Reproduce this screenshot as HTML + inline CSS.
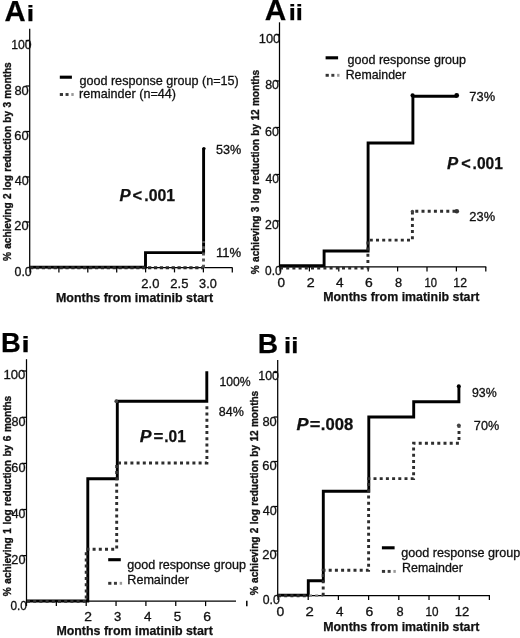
<!DOCTYPE html>
<html><head><meta charset="utf-8"><title>Figure</title>
<style>
html,body{margin:0;padding:0;background:#fff;}
body{width:520px;height:638px;overflow:hidden;font-family:"Liberation Sans",sans-serif;}
svg{display:block;will-change:transform;font-family:"Liberation Sans",sans-serif;}
.ax line{stroke:#000;stroke-width:1.25;fill:none}
.s{stroke:#000;stroke-width:2.9;fill:none;stroke-linejoin:miter}
.d{stroke:#2e2e2e;stroke-width:2.9;fill:none;stroke-dasharray:3 3.2}
</style></head><body>
<svg width="520" height="638" viewBox="0 0 520 638">
<rect width="520" height="638" fill="#fff"/>

<g class="ax">
<line x1="29.7" y1="28.8" x2="29.7" y2="267.7"/><line x1="29.099999999999998" y1="267.7" x2="232.6" y2="267.7"/>
<line x1="30.00" y1="267.7" x2="30.00" y2="272.4"/><line x1="58.90" y1="267.7" x2="58.90" y2="272.4"/><line x1="87.80" y1="267.7" x2="87.80" y2="272.4"/><line x1="116.70" y1="267.7" x2="116.70" y2="272.4"/><line x1="145.60" y1="267.7" x2="145.60" y2="272.4"/><line x1="174.50" y1="267.7" x2="174.50" y2="272.4"/><line x1="203.40" y1="267.7" x2="203.40" y2="272.4"/><line x1="232.30" y1="267.7" x2="232.30" y2="272.4"/>
<line x1="25.7" y1="40.5" x2="29.7" y2="40.5"/><line x1="25.7" y1="86" x2="29.7" y2="86"/><line x1="25.7" y1="131.5" x2="29.7" y2="131.5"/><line x1="25.7" y1="177" x2="29.7" y2="177"/><line x1="25.7" y1="222" x2="29.7" y2="222"/>
</g>
<path class="s" d="M30 267.1H145.5V252.6H203.6V148.3"/><circle cx="203.9" cy="148.6" r="1.7" fill="#000"/>
<path class="d" style="stroke:#2a2a2a;stroke-width:3;stroke-dasharray:3.3 2.6" d="M30 267.8H203.3"/><path class="d" style="stroke:#555" d="M203.5 267.8V241"/>
<text x="11.18" y="48.60" style="font-size:12.60px;stroke:#111;stroke-width:0.3px;" fill="#111" textLength="20.39" lengthAdjust="spacingAndGlyphs">100</text>
<text x="14.42" y="94.60" style="font-size:12.60px;stroke:#111;stroke-width:0.3px;" fill="#111" textLength="14.36" lengthAdjust="spacingAndGlyphs">80</text>
<text x="14.35" y="139.60" style="font-size:12.60px;stroke:#111;stroke-width:0.3px;" fill="#111" textLength="14.43" lengthAdjust="spacingAndGlyphs">60</text>
<text x="14.75" y="185.00" style="font-size:12.60px;stroke:#111;stroke-width:0.3px;" fill="#111" textLength="14.02" lengthAdjust="spacingAndGlyphs">40</text>
<text x="14.36" y="230.10" style="font-size:12.60px;stroke:#111;stroke-width:0.3px;" fill="#111" textLength="14.32" lengthAdjust="spacingAndGlyphs">20</text>
<text x="14.50" y="275.90" style="font-size:12.60px;stroke:#111;stroke-width:0.3px;" fill="#111" textLength="17.23" lengthAdjust="spacingAndGlyphs">0.0</text>
<text x="141.35" y="287.70" style="font-size:12.10px;stroke:#111;stroke-width:0.3px;" fill="#111" textLength="18.00" lengthAdjust="spacingAndGlyphs">2.0</text>
<text x="170.35" y="287.70" style="font-size:12.10px;stroke:#111;stroke-width:0.3px;" fill="#111" textLength="18.07" lengthAdjust="spacingAndGlyphs">2.5</text>
<text x="199.09" y="287.70" style="font-size:12.10px;stroke:#111;stroke-width:0.3px;" fill="#111" textLength="17.65" lengthAdjust="spacingAndGlyphs">3.0</text>
<text x="216.00" y="154.40" style="font-size:12.20px;stroke:#111;stroke-width:0.3px;" fill="#111" textLength="25.27" lengthAdjust="spacingAndGlyphs">53%</text>
<text x="216.02" y="257.30" style="font-size:12.20px;stroke:#111;stroke-width:0.3px;" fill="#111" textLength="25.20" lengthAdjust="spacingAndGlyphs">11%</text>
<text x="55.89" y="301.50" style="font-size:12.60px;font-weight:bold;stroke:#111;stroke-width:0.25px;" fill="#111" textLength="157.25" lengthAdjust="spacingAndGlyphs">Months from imatinib start</text>
<text transform="translate(10.85,261.05) rotate(-90) scale(0.915,1)" style="font-size:11.00px;font-weight:bold;stroke:#111;stroke-width:0.25px;stroke:#111;stroke-width:0.35px;word-spacing:0.577px" fill="#111">% achieving 2 log reduction by 3 months</text>
<text x="119.56" y="200.60" style="font-size:15.60px;font-weight:bold;font-style:italic;stroke:#111;stroke-width:0.25px;" fill="#111" textLength="11.19" lengthAdjust="spacingAndGlyphs">P</text><text x="132.54" y="200.60" style="font-size:15.60px;font-weight:bold;stroke:#111;stroke-width:0.25px;" fill="#111" textLength="9.60" lengthAdjust="spacingAndGlyphs">&lt;</text><text x="144.27" y="200.60" style="font-size:15.60px;font-weight:bold;stroke:#111;stroke-width:0.25px;" fill="#111" textLength="30.85" lengthAdjust="spacingAndGlyphs">.001</text>
<line x1="59.8" y1="77.2" x2="71.9" y2="77.2" stroke="#000" stroke-width="3.1"/><rect x="59.80" y="93.05" width="3.2" height="2.9" fill="#333"/><rect x="65.55" y="93.05" width="3.0" height="2.9" fill="#3c3c3c"/><rect x="71.30" y="93.05" width="2.4" height="2.9" fill="#999"/>
<text x="79.40" y="85.30" style="font-size:12.60px;stroke:#111;stroke-width:0.3px;" fill="#111" textLength="159.40" lengthAdjust="spacingAndGlyphs">good response group (n=15)</text>
<text x="79.08" y="98.10" style="font-size:12.60px;stroke:#111;stroke-width:0.3px;" fill="#111">remainder (n=44)</text>
<text x="4.47" y="20.50" style="font-size:28.84px;font-weight:bold;stroke:#111;stroke-width:0.25px;" fill="#000" textLength="21.13" lengthAdjust="spacingAndGlyphs">A</text><text x="26.75" y="20.50" style="font-size:22.21px;font-weight:bold;stroke:#111;stroke-width:0.25px;" fill="#000" textLength="7.34" lengthAdjust="spacingAndGlyphs">i</text>
<g class="ax">
<line x1="279.5" y1="22.3" x2="279.5" y2="266.9"/><line x1="278.9" y1="266.9" x2="486.3" y2="266.9"/>
<line x1="280.00" y1="266.9" x2="280.00" y2="271.4"/><line x1="309.40" y1="266.9" x2="309.40" y2="271.4"/><line x1="338.80" y1="266.9" x2="338.80" y2="271.4"/><line x1="368.20" y1="266.9" x2="368.20" y2="271.4"/><line x1="397.60" y1="266.9" x2="397.60" y2="271.4"/><line x1="427.00" y1="266.9" x2="427.00" y2="271.4"/><line x1="456.40" y1="266.9" x2="456.40" y2="271.4"/><line x1="485.80" y1="266.9" x2="485.80" y2="271.4"/>
<line x1="275.5" y1="34.5" x2="279.5" y2="34.5"/><line x1="275.5" y1="81" x2="279.5" y2="81"/><line x1="275.5" y1="127.5" x2="279.5" y2="127.5"/><line x1="275.5" y1="174.5" x2="279.5" y2="174.5"/><line x1="275.5" y1="221" x2="279.5" y2="221"/>
</g>
<path class="s" d="M280 265.7H324.1V251H368.1V143H412.9V96.3H456.5"/><circle cx="412.6" cy="95.4" r="2.1" fill="#000"/><circle cx="456.7" cy="95.5" r="2.4" fill="#000"/>
<path class="d" d="M280 268.1H367.9V240.1H412.4V211.2H456.5"/><circle cx="456.8" cy="211.2" r="2.3" fill="#333"/><circle cx="412.4" cy="211.5" r="1.7" fill="#444"/>
<text x="258.74" y="42.50" style="font-size:12.60px;stroke:#111;stroke-width:0.3px;" fill="#111" textLength="21.46" lengthAdjust="spacingAndGlyphs">100</text>
<text x="265.14" y="89.30" style="font-size:12.60px;stroke:#111;stroke-width:0.3px;" fill="#111" textLength="13.82" lengthAdjust="spacingAndGlyphs">80</text>
<text x="265.08" y="135.90" style="font-size:12.60px;stroke:#111;stroke-width:0.3px;" fill="#111" textLength="13.89" lengthAdjust="spacingAndGlyphs">60</text>
<text x="265.46" y="182.80" style="font-size:12.60px;stroke:#111;stroke-width:0.3px;" fill="#111" textLength="13.50" lengthAdjust="spacingAndGlyphs">40</text>
<text x="265.09" y="228.70" style="font-size:12.60px;stroke:#111;stroke-width:0.3px;" fill="#111" textLength="13.67" lengthAdjust="spacingAndGlyphs">20</text>
<text x="265.02" y="274.50" style="font-size:12.60px;stroke:#111;stroke-width:0.3px;" fill="#111" textLength="16.60" lengthAdjust="spacingAndGlyphs">0.0</text>
<text x="277.46" y="286.80" style="font-size:12.10px;stroke:#111;stroke-width:0.3px;" fill="#111" textLength="7.53" lengthAdjust="spacingAndGlyphs">0</text>
<text x="306.79" y="286.80" style="font-size:12.10px;stroke:#111;stroke-width:0.3px;" fill="#111" textLength="7.95" lengthAdjust="spacingAndGlyphs">2</text>
<text x="336.03" y="286.80" style="font-size:12.10px;stroke:#111;stroke-width:0.3px;" fill="#111" textLength="7.60" lengthAdjust="spacingAndGlyphs">4</text>
<text x="365.00" y="286.80" style="font-size:12.10px;stroke:#111;stroke-width:0.3px;" fill="#111" textLength="7.77" lengthAdjust="spacingAndGlyphs">6</text>
<text x="394.93" y="286.80" style="font-size:12.10px;stroke:#111;stroke-width:0.3px;" fill="#111" textLength="7.10" lengthAdjust="spacingAndGlyphs">8</text>
<text x="424.46" y="286.80" style="font-size:12.10px;stroke:#111;stroke-width:0.3px;" fill="#111" textLength="12.46" lengthAdjust="spacingAndGlyphs">10</text>
<text x="453.39" y="286.80" style="font-size:12.10px;stroke:#111;stroke-width:0.3px;" fill="#111" textLength="13.55" lengthAdjust="spacingAndGlyphs">12</text>
<text x="469.36" y="101.30" style="font-size:12.30px;stroke:#111;stroke-width:0.3px;" fill="#111" textLength="25.71" lengthAdjust="spacingAndGlyphs">73%</text>
<text x="469.36" y="220.50" style="font-size:12.30px;stroke:#111;stroke-width:0.3px;" fill="#111" textLength="25.71" lengthAdjust="spacingAndGlyphs">23%</text>
<text x="323.19" y="300.60" style="font-size:12.60px;font-weight:bold;stroke:#111;stroke-width:0.25px;" fill="#111" textLength="156.25" lengthAdjust="spacingAndGlyphs">Months from imatinib start</text>
<text transform="translate(259.10,274.25) rotate(-90) scale(0.915,1)" style="font-size:11.00px;font-weight:bold;stroke:#111;stroke-width:0.25px;stroke:#111;stroke-width:0.35px;word-spacing:0.610px" fill="#111">% achieving 3 log reduction by 12 months</text>
<text x="446.96" y="169.00" style="font-size:15.60px;font-weight:bold;font-style:italic;stroke:#111;stroke-width:0.25px;" fill="#111" textLength="11.19" lengthAdjust="spacingAndGlyphs">P</text><text x="461.35" y="169.00" style="font-size:15.60px;font-weight:bold;stroke:#111;stroke-width:0.25px;" fill="#111" textLength="9.48" lengthAdjust="spacingAndGlyphs">&lt;</text><text x="472.59" y="169.00" style="font-size:15.60px;font-weight:bold;stroke:#111;stroke-width:0.25px;" fill="#111" textLength="30.32" lengthAdjust="spacingAndGlyphs">.001</text>
<line x1="325.6" y1="57.8" x2="338.1" y2="57.8" stroke="#000" stroke-width="3.1"/><rect x="325.60" y="73.85" width="3.2" height="2.9" fill="#333"/><rect x="331.35" y="73.85" width="3.0" height="2.9" fill="#3c3c3c"/><rect x="337.10" y="73.85" width="2.4" height="2.9" fill="#999"/>
<text x="347.50" y="64.30" style="font-size:12.60px;stroke:#111;stroke-width:0.3px;" fill="#111" textLength="118.53" lengthAdjust="spacingAndGlyphs">good response group</text>
<text x="345.71" y="79.40" style="font-size:12.40px;stroke:#111;stroke-width:0.3px;" fill="#111" textLength="60.29" lengthAdjust="spacingAndGlyphs">Remainder</text>
<text x="264.65" y="19.70" style="font-size:28.99px;font-weight:bold;stroke:#111;stroke-width:0.25px;" fill="#000" textLength="21.56" lengthAdjust="spacingAndGlyphs">A</text><text x="288.72" y="19.70" style="font-size:21.93px;font-weight:bold;stroke:#111;stroke-width:0.25px;" fill="#000" textLength="14.16" lengthAdjust="spacingAndGlyphs">ii</text>
<g class="ax">
<line x1="26.5" y1="359.2" x2="26.5" y2="601.2"/><line x1="25.9" y1="601.2" x2="236" y2="601.2"/>
<line x1="26.50" y1="601.2" x2="26.50" y2="606.1"/><line x1="56.35" y1="601.2" x2="56.35" y2="606.1"/><line x1="86.20" y1="601.2" x2="86.20" y2="606.1"/><line x1="116.05" y1="601.2" x2="116.05" y2="606.1"/><line x1="145.90" y1="601.2" x2="145.90" y2="606.1"/><line x1="175.75" y1="601.2" x2="175.75" y2="606.1"/><line x1="205.60" y1="601.2" x2="205.60" y2="606.1"/>
<line x1="22.0" y1="371" x2="26.5" y2="371"/><line x1="22.0" y1="417.3" x2="26.5" y2="417.3"/><line x1="22.0" y1="463.4" x2="26.5" y2="463.4"/><line x1="22.0" y1="509.5" x2="26.5" y2="509.5"/><line x1="22.0" y1="555.6" x2="26.5" y2="555.6"/>
<line x1="246.8" y1="600.8" x2="246.8" y2="606.2" style="stroke-width:1.5"/>
</g>
<path class="s" d="M27 601H87.8V478.8H117.3V401.3H206.8V371.3"/><circle cx="116.3" cy="401.2" r="1.9" fill="#444"/>
<path class="d" d="M27 601.4H86.2V549.2H116.7V463H206.9V403"/>
<text x="3.42" y="379.20" style="font-size:12.60px;stroke:#111;stroke-width:0.3px;" fill="#111" textLength="21.89" lengthAdjust="spacingAndGlyphs">100</text>
<text x="11.43" y="425.90" style="font-size:12.60px;stroke:#111;stroke-width:0.3px;" fill="#111" textLength="14.04" lengthAdjust="spacingAndGlyphs">80</text>
<text x="11.37" y="472.00" style="font-size:12.60px;stroke:#111;stroke-width:0.3px;" fill="#111" textLength="14.11" lengthAdjust="spacingAndGlyphs">60</text>
<text x="11.75" y="518.10" style="font-size:12.60px;stroke:#111;stroke-width:0.3px;" fill="#111" textLength="13.71" lengthAdjust="spacingAndGlyphs">40</text>
<text x="11.37" y="563.60" style="font-size:12.60px;stroke:#111;stroke-width:0.3px;" fill="#111" textLength="14.11" lengthAdjust="spacingAndGlyphs">20</text>
<text x="10.53" y="609.50" style="font-size:12.60px;stroke:#111;stroke-width:0.3px;" fill="#111" textLength="16.39" lengthAdjust="spacingAndGlyphs">0.0</text>
<text x="84.31" y="621.40" style="font-size:12.20px;stroke:#111;stroke-width:0.3px;" fill="#111" textLength="7.70" lengthAdjust="spacingAndGlyphs">2</text>
<text x="113.98" y="621.40" style="font-size:12.20px;stroke:#111;stroke-width:0.3px;" fill="#111" textLength="7.26" lengthAdjust="spacingAndGlyphs">3</text>
<text x="143.93" y="621.40" style="font-size:12.20px;stroke:#111;stroke-width:0.3px;" fill="#111" textLength="7.49" lengthAdjust="spacingAndGlyphs">4</text>
<text x="173.76" y="621.40" style="font-size:12.20px;stroke:#111;stroke-width:0.3px;" fill="#111" textLength="7.49" lengthAdjust="spacingAndGlyphs">5</text>
<text x="203.30" y="621.40" style="font-size:12.20px;stroke:#111;stroke-width:0.3px;" fill="#111" textLength="7.77" lengthAdjust="spacingAndGlyphs">6</text>
<text x="219.38" y="385.90" style="font-size:12.30px;stroke:#111;stroke-width:0.3px;" fill="#111" textLength="31.21" lengthAdjust="spacingAndGlyphs">100%</text>
<text x="218.74" y="415.90" style="font-size:12.30px;stroke:#111;stroke-width:0.3px;" fill="#111" textLength="25.02" lengthAdjust="spacingAndGlyphs">84%</text>
<text x="56.39" y="635.00" style="font-size:12.60px;font-weight:bold;stroke:#111;stroke-width:0.25px;" fill="#111" textLength="156.45" lengthAdjust="spacingAndGlyphs">Months from imatinib start</text>
<text transform="translate(10.90,596.15) rotate(-90) scale(0.915,1)" style="font-size:11.00px;font-weight:bold;stroke:#111;stroke-width:0.25px;stroke:#111;stroke-width:0.35px;word-spacing:0.842px" fill="#111">% achieving 1 log reduction by 6 months</text>
<text x="139.75" y="441.90" style="font-size:16.80px;font-weight:bold;font-style:italic;stroke:#111;stroke-width:0.25px;" fill="#111" textLength="11.80" lengthAdjust="spacingAndGlyphs">P</text><text x="153.63" y="441.90" style="font-size:16.80px;font-weight:bold;stroke:#111;stroke-width:0.25px;" fill="#111" textLength="9.83" lengthAdjust="spacingAndGlyphs">=</text><text x="164.29" y="441.90" style="font-size:16.80px;font-weight:bold;stroke:#111;stroke-width:0.25px;" fill="#111" textLength="21.60" lengthAdjust="spacingAndGlyphs">.01</text>
<line x1="108.2" y1="559.7" x2="120.8" y2="559.7" stroke="#000" stroke-width="3.1"/><rect x="108.20" y="581.85" width="3.2" height="2.9" fill="#333"/><rect x="113.95" y="581.85" width="3.0" height="2.9" fill="#3c3c3c"/><rect x="119.70" y="581.85" width="2.4" height="2.9" fill="#999"/>
<text x="127.20" y="568.50" style="font-size:12.60px;stroke:#111;stroke-width:0.3px;" fill="#111" textLength="118.83" lengthAdjust="spacingAndGlyphs">good response group</text>
<text x="127.29" y="583.70" style="font-size:12.60px;stroke:#111;stroke-width:0.3px;" fill="#111" textLength="61.61" lengthAdjust="spacingAndGlyphs">Remainder</text>
<text x="1.12" y="351.70" style="font-size:28.41px;font-weight:bold;stroke:#111;stroke-width:0.25px;" fill="#000" textLength="19.77" lengthAdjust="spacingAndGlyphs">B</text><text x="21.55" y="351.90" style="font-size:21.79px;font-weight:bold;stroke:#111;stroke-width:0.25px;" fill="#000" textLength="8.14" lengthAdjust="spacingAndGlyphs">i</text>
<g class="ax">
<line x1="277.7" y1="360" x2="277.7" y2="595.5"/><line x1="277.09999999999997" y1="595.5" x2="490" y2="595.5"/>
<line x1="278.00" y1="595.5" x2="278.00" y2="600.0"/><line x1="308.20" y1="595.5" x2="308.20" y2="600.0"/><line x1="338.40" y1="595.5" x2="338.40" y2="600.0"/><line x1="368.60" y1="595.5" x2="368.60" y2="600.0"/><line x1="398.80" y1="595.5" x2="398.80" y2="600.0"/><line x1="429.00" y1="595.5" x2="429.00" y2="600.0"/><line x1="459.20" y1="595.5" x2="459.20" y2="600.0"/><line x1="489.40" y1="595.5" x2="489.40" y2="600.0"/>
<line x1="273.7" y1="372.5" x2="277.7" y2="372.5"/><line x1="273.7" y1="417" x2="277.7" y2="417"/><line x1="273.7" y1="461.5" x2="277.7" y2="461.5"/><line x1="273.7" y1="506.5" x2="277.7" y2="506.5"/><line x1="273.7" y1="551" x2="277.7" y2="551"/>
</g>
<path class="s" d="M278 595.1H308.3V580.8H323.3V491.2H368.8V417H413.7V401.7H458.9V386.5"/><circle cx="458.8" cy="386.3" r="2" fill="#000"/>
<path class="d" d="M278 595.7H308.3"/><path class="d" style="stroke:#777;stroke-width:2.2" d="M309 595.7H323.2"/><path class="d" d="M323.2 595.7V570.2H368.6V478.6H413.6V443.2H459V425.5"/><circle cx="458.8" cy="425.3" r="1.9" fill="#444"/>
<text x="258.27" y="380.30" style="font-size:12.60px;stroke:#111;stroke-width:0.3px;" fill="#111" textLength="20.71" lengthAdjust="spacingAndGlyphs">100</text>
<text x="262.42" y="425.50" style="font-size:12.60px;stroke:#111;stroke-width:0.3px;" fill="#111" textLength="14.36" lengthAdjust="spacingAndGlyphs">80</text>
<text x="262.35" y="470.00" style="font-size:12.60px;stroke:#111;stroke-width:0.3px;" fill="#111" textLength="14.43" lengthAdjust="spacingAndGlyphs">60</text>
<text x="262.75" y="515.00" style="font-size:12.60px;stroke:#111;stroke-width:0.3px;" fill="#111" textLength="14.02" lengthAdjust="spacingAndGlyphs">40</text>
<text x="262.35" y="559.20" style="font-size:12.60px;stroke:#111;stroke-width:0.3px;" fill="#111" textLength="14.43" lengthAdjust="spacingAndGlyphs">20</text>
<text x="262.71" y="604.00" style="font-size:12.60px;stroke:#111;stroke-width:0.3px;" fill="#111" textLength="17.02" lengthAdjust="spacingAndGlyphs">0.0</text>
<text x="276.44" y="615.70" style="font-size:12.20px;stroke:#111;stroke-width:0.3px;" fill="#111" textLength="7.76" lengthAdjust="spacingAndGlyphs">0</text>
<text x="305.45" y="615.70" style="font-size:12.20px;stroke:#111;stroke-width:0.3px;" fill="#111" textLength="8.31" lengthAdjust="spacingAndGlyphs">2</text>
<text x="335.93" y="615.70" style="font-size:12.20px;stroke:#111;stroke-width:0.3px;" fill="#111" textLength="7.49" lengthAdjust="spacingAndGlyphs">4</text>
<text x="365.50" y="615.70" style="font-size:12.20px;stroke:#111;stroke-width:0.3px;" fill="#111" textLength="7.77" lengthAdjust="spacingAndGlyphs">6</text>
<text x="396.43" y="615.70" style="font-size:12.20px;stroke:#111;stroke-width:0.3px;" fill="#111" textLength="7.10" lengthAdjust="spacingAndGlyphs">8</text>
<text x="425.42" y="615.70" style="font-size:12.20px;stroke:#111;stroke-width:0.3px;" fill="#111" textLength="13.01" lengthAdjust="spacingAndGlyphs">10</text>
<text x="454.73" y="615.70" style="font-size:12.20px;stroke:#111;stroke-width:0.3px;" fill="#111" textLength="14.45" lengthAdjust="spacingAndGlyphs">12</text>
<text x="471.94" y="396.80" style="font-size:12.30px;stroke:#111;stroke-width:0.3px;" fill="#111" textLength="24.71" lengthAdjust="spacingAndGlyphs">93%</text>
<text x="473.87" y="430.20" style="font-size:12.30px;stroke:#111;stroke-width:0.3px;" fill="#111" textLength="25.29" lengthAdjust="spacingAndGlyphs">70%</text>
<text x="323.19" y="631.10" style="font-size:12.60px;font-weight:bold;stroke:#111;stroke-width:0.25px;" fill="#111" textLength="156.25" lengthAdjust="spacingAndGlyphs">Months from imatinib start</text>
<text transform="translate(258.40,595.25) rotate(-90) scale(0.915,1)" style="font-size:11.00px;font-weight:bold;stroke:#111;stroke-width:0.25px;stroke:#111;stroke-width:0.35px;word-spacing:0.610px" fill="#111">% achieving 2 log reduction by 12 months</text>
<text x="296.64" y="430.30" style="font-size:16.90px;font-weight:bold;font-style:italic;stroke:#111;stroke-width:0.25px;" fill="#111" textLength="12.11" lengthAdjust="spacingAndGlyphs">P</text><text x="309.67" y="430.30" style="font-size:16.90px;font-weight:bold;stroke:#111;stroke-width:0.25px;" fill="#111" textLength="10.64" lengthAdjust="spacingAndGlyphs">=</text><text x="320.82" y="430.30" style="font-size:16.90px;font-weight:bold;stroke:#111;stroke-width:0.25px;" fill="#111" textLength="32.40" lengthAdjust="spacingAndGlyphs">.008</text>
<line x1="381.9" y1="547.8" x2="394.6" y2="547.8" stroke="#000" stroke-width="3.1"/><rect x="381.90" y="569.95" width="3.2" height="2.9" fill="#333"/><rect x="387.65" y="569.95" width="3.0" height="2.9" fill="#3c3c3c"/><rect x="393.40" y="569.95" width="2.4" height="2.9" fill="#999"/>
<text x="401.20" y="556.50" style="font-size:12.60px;stroke:#111;stroke-width:0.3px;" fill="#111" textLength="119.03" lengthAdjust="spacingAndGlyphs">good response group</text>
<text x="402.00" y="571.50" style="font-size:12.60px;stroke:#111;stroke-width:0.3px;" fill="#111" textLength="60.90" lengthAdjust="spacingAndGlyphs">Remainder</text>
<text x="257.87" y="352.60" style="font-size:28.26px;font-weight:bold;stroke:#111;stroke-width:0.25px;" fill="#000" textLength="20.36" lengthAdjust="spacingAndGlyphs">B</text><text x="284.00" y="352.60" style="font-size:22.62px;font-weight:bold;stroke:#111;stroke-width:0.25px;" fill="#000" textLength="14.29" lengthAdjust="spacingAndGlyphs">ii</text>
</svg></body></html>
